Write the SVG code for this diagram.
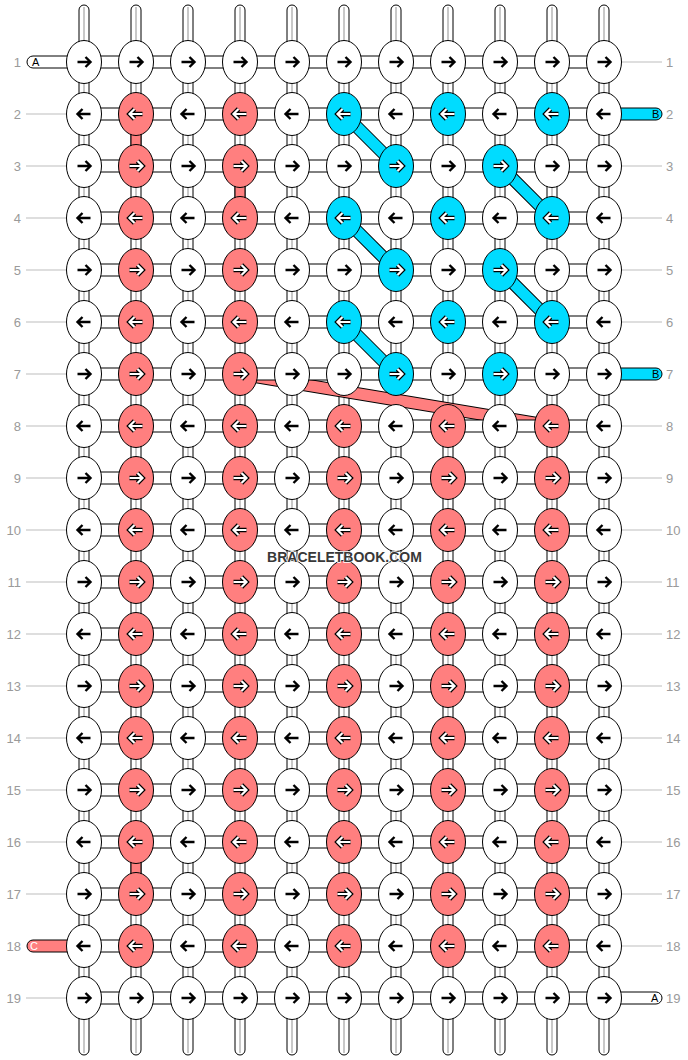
<svg xmlns="http://www.w3.org/2000/svg" xmlns:xlink="http://www.w3.org/1999/xlink" width="688" height="1060" viewBox="0 0 688 1060">
<style>
.vs{fill:#fff;stroke:#000;stroke-width:1}
.vl{stroke:#c8c8c8;stroke-width:2;fill:none}
.vp{fill:#ff7f7f;stroke:#000;stroke-width:1}
.hc{fill:#fff;stroke:#000;stroke-width:1}
.ec{fill:#00dcff;stroke:#000;stroke-width:1}
.ep{fill:#ff7f7f;stroke:#000;stroke-width:1}
.kw{fill:#fff;stroke:#000;stroke-width:1}
.kp{fill:#ff7f7f;stroke:#000;stroke-width:1}
.kc{fill:#00dcff;stroke:#000;stroke-width:1}
.ab{fill:none;stroke:#000;stroke-width:2.4}
.ao{fill:none;stroke:#000;stroke-width:4.6}
.ai{fill:none;stroke:#fff;stroke-width:2.2}
.db{stroke:#000;stroke-width:13;fill:none}
.dc{stroke:#00dcff;stroke-width:11;fill:none}
.dp{stroke:#ff7f7f;stroke-width:11;fill:none}
.num{font-family:"Liberation Sans",Arial,sans-serif;font-size:13px;fill:#9a9a9a}
.gl{stroke:#bdbdbd;stroke-width:1}
.el{font-family:"Liberation Sans",Arial,sans-serif;font-size:11px;fill:#000}
.wm{font-family:"Liberation Sans",Arial,sans-serif;font-size:14px;font-weight:bold;fill:#383838;stroke:#fff;stroke-width:1.5;paint-order:stroke}
</style>
<defs>
<path id="ar" d="M-6.5,0H6M1.5,-5L6.5,0L1.5,5"/>
<path id="al" d="M6.5,0H-6M-1.5,-5L-6.5,0L-1.5,5"/>
<g id="wR"><ellipse rx="17.5" ry="21.5" class="kw"/><use xlink:href="#ar" class="ab"/></g>
<g id="wL"><ellipse rx="17.5" ry="21.5" class="kw"/><use xlink:href="#al" class="ab"/></g>
<g id="pR"><ellipse rx="17.5" ry="21.5" class="kp"/><use xlink:href="#ar" class="ao"/><use xlink:href="#ar" class="ai"/></g>
<g id="pL"><ellipse rx="17.5" ry="21.5" class="kp"/><use xlink:href="#al" class="ao"/><use xlink:href="#al" class="ai"/></g>
<g id="cR"><ellipse rx="17.5" ry="21.5" class="kc"/><use xlink:href="#ar" class="ao"/><use xlink:href="#ar" class="ai"/></g>
<g id="cL"><ellipse rx="17.5" ry="21.5" class="kc"/><use xlink:href="#al" class="ao"/><use xlink:href="#al" class="ai"/></g>
<g id="vstrand"><rect x="-5" y="5" width="10" height="1050" rx="5" class="vs"/><line x1="0" y1="7" x2="0" y2="1053" class="vl"/></g>
</defs>

<g id="connectors">
<g id="vertical-strands">
<use xlink:href="#vstrand" x="84"/><use xlink:href="#vstrand" x="136"/><use xlink:href="#vstrand" x="188"/><use xlink:href="#vstrand" x="240"/><use xlink:href="#vstrand" x="292"/><use xlink:href="#vstrand" x="344"/><use xlink:href="#vstrand" x="396"/><use xlink:href="#vstrand" x="448"/><use xlink:href="#vstrand" x="500"/><use xlink:href="#vstrand" x="552"/><use xlink:href="#vstrand" x="604"/>
</g>
<g id="colored-verticals">
<rect x="131" y="129" width="10" height="22" class="vp"/>
<rect x="235" y="181" width="10" height="22" class="vp"/>
<rect x="131" y="857" width="10" height="22" class="vp"/>
</g>
<g id="diagonals">
<path d="M344,114L396,166M344,218L396,270M344,322L396,374M500,166L552,218M500,270L552,322M240,374L552,426" class="db"/>
<path d="M344,114L396,166M344,218L396,270M344,322L396,374M500,166L552,218M500,270L552,322" class="dc"/>
<path d="M240,374L552,426" class="dp"/>
</g>
<g id="horizontal">
<rect x="27" y="56" width="577" height="12" rx="6" class="hc"/>
<rect x="84" y="108" width="520" height="12" class="hc"/>
<rect x="84" y="160" width="520" height="12" class="hc"/>
<rect x="84" y="212" width="520" height="12" class="hc"/>
<rect x="84" y="264" width="520" height="12" class="hc"/>
<rect x="84" y="316" width="520" height="12" class="hc"/>
<rect x="84" y="368" width="520" height="12" class="hc"/>
<rect x="84" y="420" width="520" height="12" class="hc"/>
<rect x="84" y="472" width="520" height="12" class="hc"/>
<rect x="84" y="524" width="520" height="12" class="hc"/>
<rect x="84" y="576" width="520" height="12" class="hc"/>
<rect x="84" y="628" width="520" height="12" class="hc"/>
<rect x="84" y="680" width="520" height="12" class="hc"/>
<rect x="84" y="732" width="520" height="12" class="hc"/>
<rect x="84" y="784" width="520" height="12" class="hc"/>
<rect x="84" y="836" width="520" height="12" class="hc"/>
<rect x="84" y="888" width="520" height="12" class="hc"/>
<rect x="84" y="940" width="520" height="12" class="hc"/>
<rect x="84" y="992" width="578" height="12" rx="6" class="hc"/>
<rect x="590" y="108" width="72" height="12" rx="6" class="ec"/>
<rect x="590" y="368" width="72" height="12" rx="6" class="ec"/>
<rect x="27" y="940" width="72" height="12" rx="6" class="ep"/>
</g>
<g id="guides">
<path d="M26,114H66M26,166H66M26,218H66M26,270H66M26,322H66M26,374H66M26,426H66M26,478H66M26,530H66M26,582H66M26,634H66M26,686H66M26,738H66M26,790H66M26,842H66M26,894H66M26,998H66" class="gl"/>
<path d="M622,62H662M622,166H662M622,218H662M622,270H662M622,322H662M622,426H662M622,478H662M622,530H662M622,582H662M622,634H662M622,686H662M622,738H662M622,790H662M622,842H662M622,894H662M622,946H662" class="gl"/>
</g>
</g>

<g id="edge-labels">
<text x="32" y="66" class="el">A</text>
<text x="652" y="118" class="el">B</text>
<text x="652" y="378" class="el">B</text>
<text x="30" y="950" class="el" style="fill:#fff">C</text>
<text x="651" y="1002" class="el">A</text>
</g>

<g id="row-numbers">
<text x="21" y="67" class="num" text-anchor="end">1</text><text x="666" y="67" class="num">1</text>
<text x="21" y="119" class="num" text-anchor="end">2</text><text x="666" y="119" class="num">2</text>
<text x="21" y="171" class="num" text-anchor="end">3</text><text x="666" y="171" class="num">3</text>
<text x="21" y="223" class="num" text-anchor="end">4</text><text x="666" y="223" class="num">4</text>
<text x="21" y="275" class="num" text-anchor="end">5</text><text x="666" y="275" class="num">5</text>
<text x="21" y="327" class="num" text-anchor="end">6</text><text x="666" y="327" class="num">6</text>
<text x="21" y="379" class="num" text-anchor="end">7</text><text x="666" y="379" class="num">7</text>
<text x="21" y="431" class="num" text-anchor="end">8</text><text x="666" y="431" class="num">8</text>
<text x="21" y="483" class="num" text-anchor="end">9</text><text x="666" y="483" class="num">9</text>
<text x="21" y="535" class="num" text-anchor="end">10</text><text x="666" y="535" class="num">10</text>
<text x="21" y="587" class="num" text-anchor="end">11</text><text x="666" y="587" class="num">11</text>
<text x="21" y="639" class="num" text-anchor="end">12</text><text x="666" y="639" class="num">12</text>
<text x="21" y="691" class="num" text-anchor="end">13</text><text x="666" y="691" class="num">13</text>
<text x="21" y="743" class="num" text-anchor="end">14</text><text x="666" y="743" class="num">14</text>
<text x="21" y="795" class="num" text-anchor="end">15</text><text x="666" y="795" class="num">15</text>
<text x="21" y="847" class="num" text-anchor="end">16</text><text x="666" y="847" class="num">16</text>
<text x="21" y="899" class="num" text-anchor="end">17</text><text x="666" y="899" class="num">17</text>
<text x="21" y="951" class="num" text-anchor="end">18</text><text x="666" y="951" class="num">18</text>
<text x="21" y="1003" class="num" text-anchor="end">19</text><text x="666" y="1003" class="num">19</text>
</g>

<g id="knots">
<g id="r1"><g id="k1_1"><use xlink:href="#wR" x="84" y="62"/></g><g id="k1_2"><use xlink:href="#wR" x="136" y="62"/></g><g id="k1_3"><use xlink:href="#wR" x="188" y="62"/></g><g id="k1_4"><use xlink:href="#wR" x="240" y="62"/></g><g id="k1_5"><use xlink:href="#wR" x="292" y="62"/></g><g id="k1_6"><use xlink:href="#wR" x="344" y="62"/></g><g id="k1_7"><use xlink:href="#wR" x="396" y="62"/></g><g id="k1_8"><use xlink:href="#wR" x="448" y="62"/></g><g id="k1_9"><use xlink:href="#wR" x="500" y="62"/></g><g id="k1_10"><use xlink:href="#wR" x="552" y="62"/></g><g id="k1_11"><use xlink:href="#wR" x="604" y="62"/></g></g>
<g id="r2"><g id="k2_1"><use xlink:href="#wL" x="84" y="114"/></g><g id="k2_2"><use xlink:href="#pL" x="136" y="114"/></g><g id="k2_3"><use xlink:href="#wL" x="188" y="114"/></g><g id="k2_4"><use xlink:href="#pL" x="240" y="114"/></g><g id="k2_5"><use xlink:href="#wL" x="292" y="114"/></g><g id="k2_6"><use xlink:href="#cL" x="344" y="114"/></g><g id="k2_7"><use xlink:href="#wL" x="396" y="114"/></g><g id="k2_8"><use xlink:href="#cL" x="448" y="114"/></g><g id="k2_9"><use xlink:href="#wL" x="500" y="114"/></g><g id="k2_10"><use xlink:href="#cL" x="552" y="114"/></g><g id="k2_11"><use xlink:href="#wL" x="604" y="114"/></g></g>
<g id="r3"><g id="k3_1"><use xlink:href="#wR" x="84" y="166"/></g><g id="k3_2"><use xlink:href="#pR" x="136" y="166"/></g><g id="k3_3"><use xlink:href="#wR" x="188" y="166"/></g><g id="k3_4"><use xlink:href="#pR" x="240" y="166"/></g><g id="k3_5"><use xlink:href="#wR" x="292" y="166"/></g><g id="k3_6"><use xlink:href="#wR" x="344" y="166"/></g><g id="k3_7"><use xlink:href="#cR" x="396" y="166"/></g><g id="k3_8"><use xlink:href="#wR" x="448" y="166"/></g><g id="k3_9"><use xlink:href="#cR" x="500" y="166"/></g><g id="k3_10"><use xlink:href="#wR" x="552" y="166"/></g><g id="k3_11"><use xlink:href="#wR" x="604" y="166"/></g></g>
<g id="r4"><g id="k4_1"><use xlink:href="#wL" x="84" y="218"/></g><g id="k4_2"><use xlink:href="#pL" x="136" y="218"/></g><g id="k4_3"><use xlink:href="#wL" x="188" y="218"/></g><g id="k4_4"><use xlink:href="#pL" x="240" y="218"/></g><g id="k4_5"><use xlink:href="#wL" x="292" y="218"/></g><g id="k4_6"><use xlink:href="#cL" x="344" y="218"/></g><g id="k4_7"><use xlink:href="#wL" x="396" y="218"/></g><g id="k4_8"><use xlink:href="#cL" x="448" y="218"/></g><g id="k4_9"><use xlink:href="#wL" x="500" y="218"/></g><g id="k4_10"><use xlink:href="#cL" x="552" y="218"/></g><g id="k4_11"><use xlink:href="#wL" x="604" y="218"/></g></g>
<g id="r5"><g id="k5_1"><use xlink:href="#wR" x="84" y="270"/></g><g id="k5_2"><use xlink:href="#pR" x="136" y="270"/></g><g id="k5_3"><use xlink:href="#wR" x="188" y="270"/></g><g id="k5_4"><use xlink:href="#pR" x="240" y="270"/></g><g id="k5_5"><use xlink:href="#wR" x="292" y="270"/></g><g id="k5_6"><use xlink:href="#wR" x="344" y="270"/></g><g id="k5_7"><use xlink:href="#cR" x="396" y="270"/></g><g id="k5_8"><use xlink:href="#wR" x="448" y="270"/></g><g id="k5_9"><use xlink:href="#cR" x="500" y="270"/></g><g id="k5_10"><use xlink:href="#wR" x="552" y="270"/></g><g id="k5_11"><use xlink:href="#wR" x="604" y="270"/></g></g>
<g id="r6"><g id="k6_1"><use xlink:href="#wL" x="84" y="322"/></g><g id="k6_2"><use xlink:href="#pL" x="136" y="322"/></g><g id="k6_3"><use xlink:href="#wL" x="188" y="322"/></g><g id="k6_4"><use xlink:href="#pL" x="240" y="322"/></g><g id="k6_5"><use xlink:href="#wL" x="292" y="322"/></g><g id="k6_6"><use xlink:href="#cL" x="344" y="322"/></g><g id="k6_7"><use xlink:href="#wL" x="396" y="322"/></g><g id="k6_8"><use xlink:href="#cL" x="448" y="322"/></g><g id="k6_9"><use xlink:href="#wL" x="500" y="322"/></g><g id="k6_10"><use xlink:href="#cL" x="552" y="322"/></g><g id="k6_11"><use xlink:href="#wL" x="604" y="322"/></g></g>
<g id="r7"><g id="k7_1"><use xlink:href="#wR" x="84" y="374"/></g><g id="k7_2"><use xlink:href="#pR" x="136" y="374"/></g><g id="k7_3"><use xlink:href="#wR" x="188" y="374"/></g><g id="k7_4"><use xlink:href="#pR" x="240" y="374"/></g><g id="k7_5"><use xlink:href="#wR" x="292" y="374"/></g><g id="k7_6"><use xlink:href="#wR" x="344" y="374"/></g><g id="k7_7"><use xlink:href="#cR" x="396" y="374"/></g><g id="k7_8"><use xlink:href="#wR" x="448" y="374"/></g><g id="k7_9"><use xlink:href="#cR" x="500" y="374"/></g><g id="k7_10"><use xlink:href="#wR" x="552" y="374"/></g><g id="k7_11"><use xlink:href="#wR" x="604" y="374"/></g></g>
<g id="r8"><g id="k8_1"><use xlink:href="#wL" x="84" y="426"/></g><g id="k8_2"><use xlink:href="#pL" x="136" y="426"/></g><g id="k8_3"><use xlink:href="#wL" x="188" y="426"/></g><g id="k8_4"><use xlink:href="#pL" x="240" y="426"/></g><g id="k8_5"><use xlink:href="#wL" x="292" y="426"/></g><g id="k8_6"><use xlink:href="#pL" x="344" y="426"/></g><g id="k8_7"><use xlink:href="#wL" x="396" y="426"/></g><g id="k8_8"><use xlink:href="#pL" x="448" y="426"/></g><g id="k8_9"><use xlink:href="#wL" x="500" y="426"/></g><g id="k8_10"><use xlink:href="#pL" x="552" y="426"/></g><g id="k8_11"><use xlink:href="#wL" x="604" y="426"/></g></g>
<g id="r9"><g id="k9_1"><use xlink:href="#wR" x="84" y="478"/></g><g id="k9_2"><use xlink:href="#pR" x="136" y="478"/></g><g id="k9_3"><use xlink:href="#wR" x="188" y="478"/></g><g id="k9_4"><use xlink:href="#pR" x="240" y="478"/></g><g id="k9_5"><use xlink:href="#wR" x="292" y="478"/></g><g id="k9_6"><use xlink:href="#pR" x="344" y="478"/></g><g id="k9_7"><use xlink:href="#wR" x="396" y="478"/></g><g id="k9_8"><use xlink:href="#pR" x="448" y="478"/></g><g id="k9_9"><use xlink:href="#wR" x="500" y="478"/></g><g id="k9_10"><use xlink:href="#pR" x="552" y="478"/></g><g id="k9_11"><use xlink:href="#wR" x="604" y="478"/></g></g>
<g id="r10"><g id="k10_1"><use xlink:href="#wL" x="84" y="530"/></g><g id="k10_2"><use xlink:href="#pL" x="136" y="530"/></g><g id="k10_3"><use xlink:href="#wL" x="188" y="530"/></g><g id="k10_4"><use xlink:href="#pL" x="240" y="530"/></g><g id="k10_5"><use xlink:href="#wL" x="292" y="530"/></g><g id="k10_6"><use xlink:href="#pL" x="344" y="530"/></g><g id="k10_7"><use xlink:href="#wL" x="396" y="530"/></g><g id="k10_8"><use xlink:href="#pL" x="448" y="530"/></g><g id="k10_9"><use xlink:href="#wL" x="500" y="530"/></g><g id="k10_10"><use xlink:href="#pL" x="552" y="530"/></g><g id="k10_11"><use xlink:href="#wL" x="604" y="530"/></g></g>
<g id="r11"><g id="k11_1"><use xlink:href="#wR" x="84" y="582"/></g><g id="k11_2"><use xlink:href="#pR" x="136" y="582"/></g><g id="k11_3"><use xlink:href="#wR" x="188" y="582"/></g><g id="k11_4"><use xlink:href="#pR" x="240" y="582"/></g><g id="k11_5"><use xlink:href="#wR" x="292" y="582"/></g><g id="k11_6"><use xlink:href="#pR" x="344" y="582"/></g><g id="k11_7"><use xlink:href="#wR" x="396" y="582"/></g><g id="k11_8"><use xlink:href="#pR" x="448" y="582"/></g><g id="k11_9"><use xlink:href="#wR" x="500" y="582"/></g><g id="k11_10"><use xlink:href="#pR" x="552" y="582"/></g><g id="k11_11"><use xlink:href="#wR" x="604" y="582"/></g></g>
<g id="r12"><g id="k12_1"><use xlink:href="#wL" x="84" y="634"/></g><g id="k12_2"><use xlink:href="#pL" x="136" y="634"/></g><g id="k12_3"><use xlink:href="#wL" x="188" y="634"/></g><g id="k12_4"><use xlink:href="#pL" x="240" y="634"/></g><g id="k12_5"><use xlink:href="#wL" x="292" y="634"/></g><g id="k12_6"><use xlink:href="#pL" x="344" y="634"/></g><g id="k12_7"><use xlink:href="#wL" x="396" y="634"/></g><g id="k12_8"><use xlink:href="#pL" x="448" y="634"/></g><g id="k12_9"><use xlink:href="#wL" x="500" y="634"/></g><g id="k12_10"><use xlink:href="#pL" x="552" y="634"/></g><g id="k12_11"><use xlink:href="#wL" x="604" y="634"/></g></g>
<g id="r13"><g id="k13_1"><use xlink:href="#wR" x="84" y="686"/></g><g id="k13_2"><use xlink:href="#pR" x="136" y="686"/></g><g id="k13_3"><use xlink:href="#wR" x="188" y="686"/></g><g id="k13_4"><use xlink:href="#pR" x="240" y="686"/></g><g id="k13_5"><use xlink:href="#wR" x="292" y="686"/></g><g id="k13_6"><use xlink:href="#pR" x="344" y="686"/></g><g id="k13_7"><use xlink:href="#wR" x="396" y="686"/></g><g id="k13_8"><use xlink:href="#pR" x="448" y="686"/></g><g id="k13_9"><use xlink:href="#wR" x="500" y="686"/></g><g id="k13_10"><use xlink:href="#pR" x="552" y="686"/></g><g id="k13_11"><use xlink:href="#wR" x="604" y="686"/></g></g>
<g id="r14"><g id="k14_1"><use xlink:href="#wL" x="84" y="738"/></g><g id="k14_2"><use xlink:href="#pL" x="136" y="738"/></g><g id="k14_3"><use xlink:href="#wL" x="188" y="738"/></g><g id="k14_4"><use xlink:href="#pL" x="240" y="738"/></g><g id="k14_5"><use xlink:href="#wL" x="292" y="738"/></g><g id="k14_6"><use xlink:href="#pL" x="344" y="738"/></g><g id="k14_7"><use xlink:href="#wL" x="396" y="738"/></g><g id="k14_8"><use xlink:href="#pL" x="448" y="738"/></g><g id="k14_9"><use xlink:href="#wL" x="500" y="738"/></g><g id="k14_10"><use xlink:href="#pL" x="552" y="738"/></g><g id="k14_11"><use xlink:href="#wL" x="604" y="738"/></g></g>
<g id="r15"><g id="k15_1"><use xlink:href="#wR" x="84" y="790"/></g><g id="k15_2"><use xlink:href="#pR" x="136" y="790"/></g><g id="k15_3"><use xlink:href="#wR" x="188" y="790"/></g><g id="k15_4"><use xlink:href="#pR" x="240" y="790"/></g><g id="k15_5"><use xlink:href="#wR" x="292" y="790"/></g><g id="k15_6"><use xlink:href="#pR" x="344" y="790"/></g><g id="k15_7"><use xlink:href="#wR" x="396" y="790"/></g><g id="k15_8"><use xlink:href="#pR" x="448" y="790"/></g><g id="k15_9"><use xlink:href="#wR" x="500" y="790"/></g><g id="k15_10"><use xlink:href="#pR" x="552" y="790"/></g><g id="k15_11"><use xlink:href="#wR" x="604" y="790"/></g></g>
<g id="r16"><g id="k16_1"><use xlink:href="#wL" x="84" y="842"/></g><g id="k16_2"><use xlink:href="#pL" x="136" y="842"/></g><g id="k16_3"><use xlink:href="#wL" x="188" y="842"/></g><g id="k16_4"><use xlink:href="#pL" x="240" y="842"/></g><g id="k16_5"><use xlink:href="#wL" x="292" y="842"/></g><g id="k16_6"><use xlink:href="#pL" x="344" y="842"/></g><g id="k16_7"><use xlink:href="#wL" x="396" y="842"/></g><g id="k16_8"><use xlink:href="#pL" x="448" y="842"/></g><g id="k16_9"><use xlink:href="#wL" x="500" y="842"/></g><g id="k16_10"><use xlink:href="#pL" x="552" y="842"/></g><g id="k16_11"><use xlink:href="#wL" x="604" y="842"/></g></g>
<g id="r17"><g id="k17_1"><use xlink:href="#wR" x="84" y="894"/></g><g id="k17_2"><use xlink:href="#pR" x="136" y="894"/></g><g id="k17_3"><use xlink:href="#wR" x="188" y="894"/></g><g id="k17_4"><use xlink:href="#pR" x="240" y="894"/></g><g id="k17_5"><use xlink:href="#wR" x="292" y="894"/></g><g id="k17_6"><use xlink:href="#pR" x="344" y="894"/></g><g id="k17_7"><use xlink:href="#wR" x="396" y="894"/></g><g id="k17_8"><use xlink:href="#pR" x="448" y="894"/></g><g id="k17_9"><use xlink:href="#wR" x="500" y="894"/></g><g id="k17_10"><use xlink:href="#pR" x="552" y="894"/></g><g id="k17_11"><use xlink:href="#wR" x="604" y="894"/></g></g>
<g id="r18"><g id="k18_1"><use xlink:href="#wL" x="84" y="946"/></g><g id="k18_2"><use xlink:href="#pL" x="136" y="946"/></g><g id="k18_3"><use xlink:href="#wL" x="188" y="946"/></g><g id="k18_4"><use xlink:href="#pL" x="240" y="946"/></g><g id="k18_5"><use xlink:href="#wL" x="292" y="946"/></g><g id="k18_6"><use xlink:href="#pL" x="344" y="946"/></g><g id="k18_7"><use xlink:href="#wL" x="396" y="946"/></g><g id="k18_8"><use xlink:href="#pL" x="448" y="946"/></g><g id="k18_9"><use xlink:href="#wL" x="500" y="946"/></g><g id="k18_10"><use xlink:href="#pL" x="552" y="946"/></g><g id="k18_11"><use xlink:href="#wL" x="604" y="946"/></g></g>
<g id="r19"><g id="k19_1"><use xlink:href="#wR" x="84" y="998"/></g><g id="k19_2"><use xlink:href="#wR" x="136" y="998"/></g><g id="k19_3"><use xlink:href="#wR" x="188" y="998"/></g><g id="k19_4"><use xlink:href="#wR" x="240" y="998"/></g><g id="k19_5"><use xlink:href="#wR" x="292" y="998"/></g><g id="k19_6"><use xlink:href="#wR" x="344" y="998"/></g><g id="k19_7"><use xlink:href="#wR" x="396" y="998"/></g><g id="k19_8"><use xlink:href="#wR" x="448" y="998"/></g><g id="k19_9"><use xlink:href="#wR" x="500" y="998"/></g><g id="k19_10"><use xlink:href="#wR" x="552" y="998"/></g><g id="k19_11"><use xlink:href="#wR" x="604" y="998"/></g></g>
</g>

<text x="344.5" y="562" class="wm" text-anchor="middle">BRACELETBOOK.COM</text>
</svg>
